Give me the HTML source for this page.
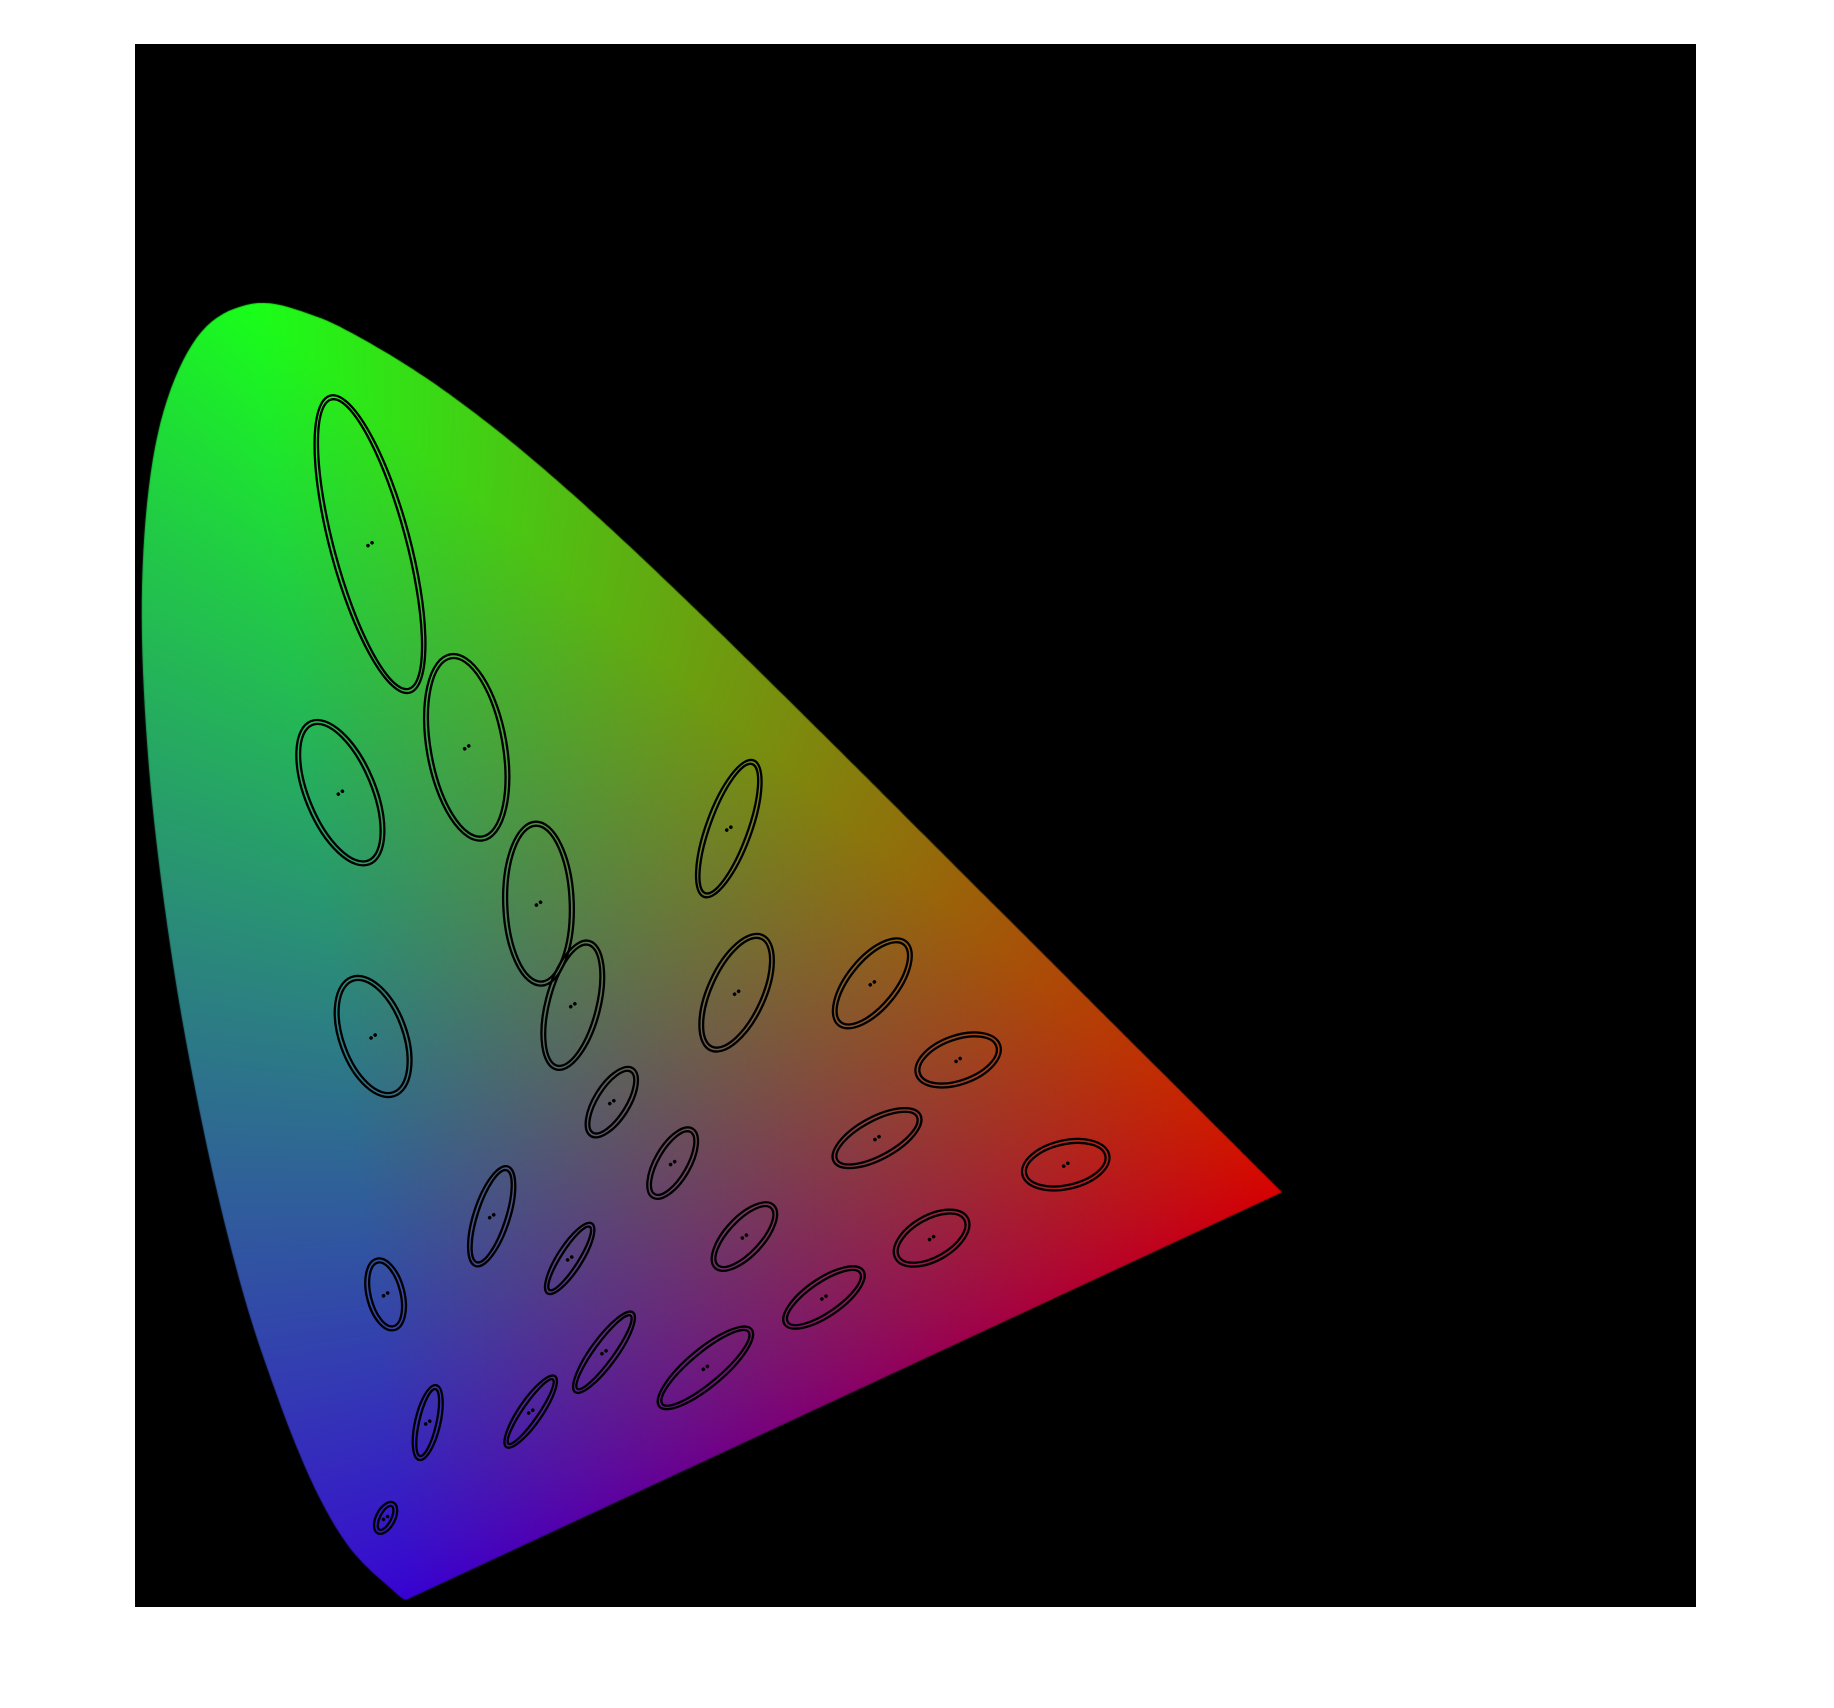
<!DOCTYPE html>
<html><head><meta charset="utf-8"><style>
html,body{margin:0;padding:0;background:#fff;width:1834px;height:1708px;overflow:hidden}
#plot{position:absolute;left:135px;top:44px;width:1561px;height:1563px;background:#000}
#cv{position:absolute;left:0;top:0}
#ov{position:absolute;left:0;top:0}
</style></head><body>
<div id="plot">
<canvas id="cv" width="1561" height="1563"></canvas>
</div>
<svg id="ov" width="1834" height="1708"></svg>
<script>
const locusX=[0.1741,0.1740,0.1738,0.1736,0.1733,0.1730,0.1726,0.1721,0.1714,0.1703,0.1689,0.1669,0.1644,0.1611,0.1566,0.1510,0.1440,0.1355,0.1241,0.1096,0.0913,0.0687,0.0454,0.0235,0.0082,0.0039,0.0139,0.0389,0.0743,0.1142,0.1547,0.1929,0.2296,0.2658,0.3016,0.3373,0.3731,0.4087,0.4441,0.4788,0.5125,0.5448,0.5752,0.6029,0.6270,0.6482,0.6658,0.6801,0.6915,0.7006,0.7079,0.7140,0.7190,0.7230,0.7260,0.7283,0.7300,0.7311,0.7320,0.7334,0.7347];
const locusY=[0.0050,0.0050,0.0049,0.0049,0.0048,0.0048,0.0048,0.0048,0.0051,0.0058,0.0069,0.0086,0.0109,0.0138,0.0177,0.0227,0.0297,0.0399,0.0578,0.0868,0.1327,0.2007,0.2950,0.4127,0.5384,0.6548,0.7502,0.8120,0.8338,0.8262,0.8059,0.7816,0.7543,0.7243,0.6923,0.6589,0.6245,0.5896,0.5547,0.5202,0.4866,0.4544,0.4242,0.3965,0.3725,0.3514,0.3340,0.3197,0.3083,0.2993,0.2920,0.2859,0.2809,0.2770,0.2740,0.2717,0.2700,0.2689,0.2680,0.2666,0.2653];
const ellipseX=[0.160,0.187,0.253,0.150,0.131,0.212,0.258,0.152,0.280,0.380,0.160,0.228,0.305,0.385,0.472,0.527,0.475,0.510,0.596,0.344,0.390,0.441,0.278,0.300,0.365];
const ellipseY=[0.057,0.118,0.125,0.680,0.521,0.550,0.450,0.365,0.385,0.498,0.200,0.250,0.323,0.393,0.399,0.350,0.300,0.236,0.283,0.284,0.237,0.198,0.223,0.163,0.153];
const ellipseA=[0.85,2.2,2.5,9.6,4.7,5.8,5.0,3.8,4.0,4.4,2.1,3.1,2.3,3.8,3.2,2.6,2.9,2.4,2.6,2.3,2.5,2.8,2.4,2.9,3.6];
const ellipseB=[0.35,0.55,0.5,2.3,2.0,2.3,2.0,1.9,1.5,1.2,0.95,0.9,0.9,1.6,1.4,1.3,1.1,1.2,1.3,0.9,1.0,0.95,0.55,0.6,0.95];
const ellipseTheta=[62.5,77,55.5,105,112.5,100,92,110,75.5,70,104,72,58,65.5,51,20,28.5,29.5,13,60,47,34.5,57.5,54,40];

const X0=136,SX=1560,Y0=1607,SY=1563,PL=135,PT=44;
const px=x=>X0+x*SX, py=y=>Y0-y*SY;

const Rv=[0.7347,0.2653],Gv=[0.0743,0.8338],Bv=[0.1741,0.0050];
const cR=[215,0,0],cG=[25,255,25],cB=[55,0,210];
const e1=[Rv[0]-Bv[0],Rv[1]-Bv[1]],e2=[Gv[0]-Bv[0],Gv[1]-Bv[1]];
const det=e1[0]*e2[1]-e1[1]*e2[0];
const cv=document.getElementById('cv'),ctx=cv.getContext('2d');
const W=cv.width,H=cv.height;
const off=document.createElement('canvas');off.width=W;off.height=H;
const octx=off.getContext('2d');const img=octx.createImageData(W,H);const d=img.data;
for(let j=0;j<H;j++){const y=(Y0-(j+PT+0.5))/SY;
 for(let i=0;i<W;i++){const x=((i+PL+0.5)-X0)/SX;
  const qx=x-Bv[0],qy=y-Bv[1];
  let a=(qx*e2[1]-qy*e2[0])/det,b=(e1[0]*qy-e1[1]*qx)/det,c=1-a-b;
  a=Math.max(a,0);b=Math.max(b,0);c=Math.max(c,0);let s=a+b+c||1;a/=s;b/=s;c/=s;
  b=Math.pow(b,0.85);
  const k=(j*W+i)*4;
  d[k]=Math.min(255,a*cR[0]+b*cG[0]+c*cB[0]);
  d[k+1]=Math.min(255,a*cR[1]+b*cG[1]+c*cB[1]);
  d[k+2]=Math.min(255,a*cR[2]+b*cG[2]+c*cB[2]);d[k+3]=255;}}
octx.putImageData(img,0,0);

ctx.save();ctx.beginPath();
const P=locusX.map((v,n)=>[px(v)-PL,py(locusY[n])-PT]);
ctx.moveTo(P[0][0],P[0][1]);
for(let n=0;n<P.length-1;n++){
 const p0=P[Math.max(n-1,0)],p1=P[n],p2=P[n+1],p3=P[Math.min(n+2,P.length-1)];
 for(let t=0.1;t<=1.0001;t+=0.1){const t2=t*t,t3=t2*t;
  const f=(a,b,c,e)=>0.5*((2*b)+(-a+c)*t+(2*a-5*b+4*c-e)*t2+(-a+3*b-3*c+e)*t3);
  ctx.lineTo(f(p0[0],p1[0],p2[0],p3[0]),f(p0[1],p1[1],p2[1],p3[1]));}}
ctx.closePath();ctx.clip();ctx.drawImage(off,0,0);ctx.restore();

const ov=document.getElementById('ov');const NS='http://www.w3.org/2000/svg';
for(let n=0;n<ellipseX.length;n++){
 const cx=px(ellipseX[n]),cy=py(ellipseY[n]);
 const ra=ellipseA[n]*0.01*SX,rb=ellipseB[n]*0.01*SY;
 const g=document.createElementNS(NS,'g');
 
 
 g.setAttribute('transform','translate('+cx+','+cy+') rotate('+(-ellipseTheta[n])+')');
 [0,4].forEach(o=>{const e=document.createElementNS(NS,'ellipse');
  
  
  e.setAttribute('rx',ra+o);e.setAttribute('ry',rb+o);
  e.setAttribute('fill','none');e.setAttribute('stroke','#000');e.setAttribute('stroke-width','2.3');g.appendChild(e);});
 [-2.5,2.5].forEach(o=>{const c=document.createElementNS(NS,'circle');
  
  
  c.setAttribute('cx',o);c.setAttribute('cy',0);c.setAttribute('r','1.8');c.setAttribute('fill','#000');
  c.setAttribute('transform','rotate('+(ellipseTheta[n]-35)+')');g.appendChild(c);});
 ov.appendChild(g);}
</script>
</body></html>
